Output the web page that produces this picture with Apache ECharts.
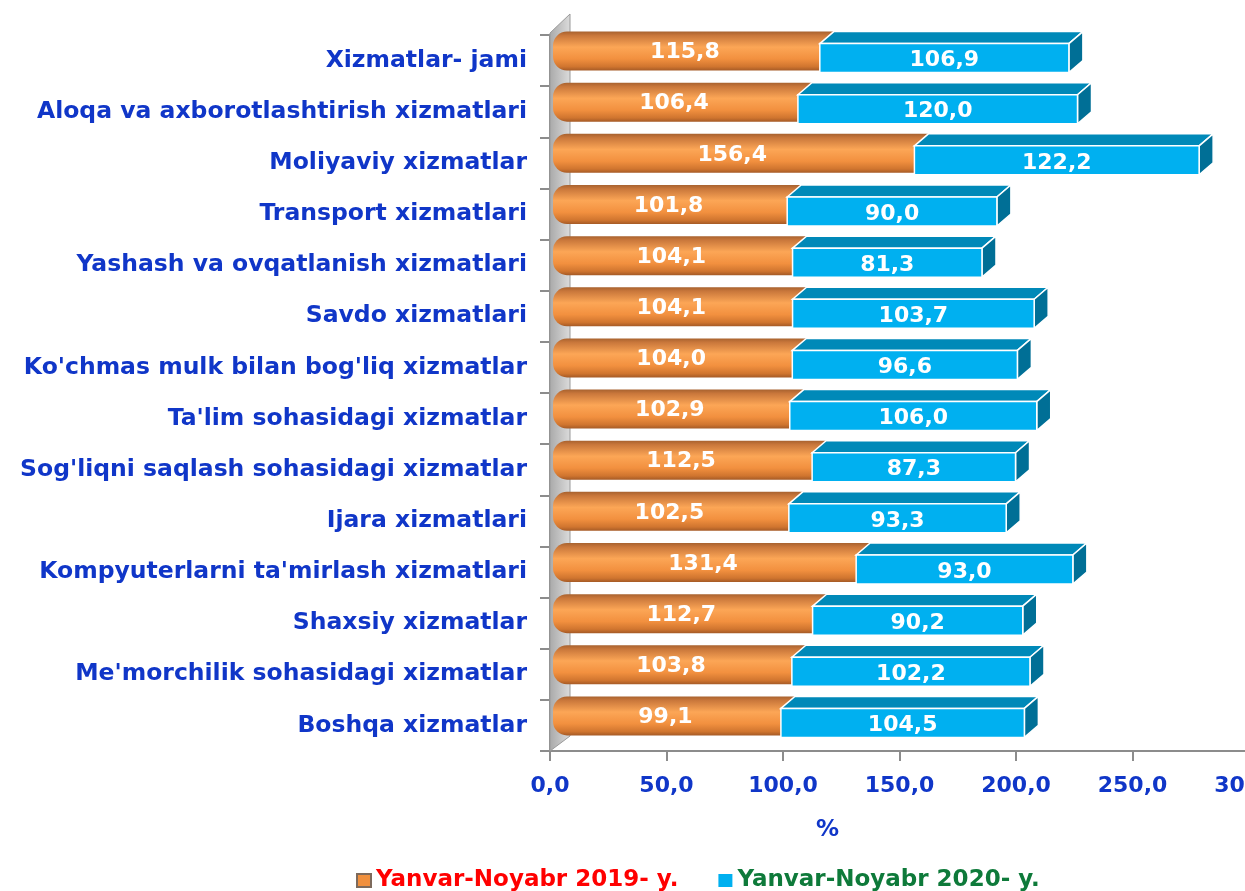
<!DOCTYPE html>
<html>
<head>
<meta charset="utf-8">
<script src="https://cdn.jsdelivr.net/npm/echarts@6.0.0/dist/echarts.min.js"></script>
<style>
  html, body { margin: 0; padding: 0; background: #fff; }
  #chart { width: 1245px; height: 891px; }
</style>
</head>
<body>
<div id="chart"></div>
<script>
// categories, top to bottom
var categories = [
  'Xizmatlar- jami',
  'Aloqa va axborotlashtirish xizmatlari',
  'Moliyaviy xizmatlar',
  'Transport xizmatlari',
  'Yashash va ovqatlanish xizmatlari',
  'Savdo xizmatlari',
  "Ko'chmas mulk bilan bog'liq xizmatlar",
  "Ta'lim sohasidagi xizmatlar",
  "Sog'liqni saqlash sohasidagi xizmatlar",
  'Ijara xizmatlari',
  "Kompyuterlarni ta'mirlash xizmatlari",
  'Shaxsiy xizmatlar',
  "Me'morchilik sohasidagi xizmatlar",
  'Boshqa xizmatlar'
];
var values2019 = [115.8, 106.4, 156.4, 101.8, 104.1, 104.1, 104.0, 102.9, 112.5, 102.5, 131.4, 112.7, 103.8, 99.1];
var values2020 = [106.9, 120.0, 122.2, 90.0, 81.3, 103.7, 96.6, 106.0, 87.3, 93.3, 93.0, 90.2, 102.2, 104.5];
var seriesNames = ['Yanvar-Noyabr 2019- y.', 'Yanvar-Noyabr 2020- y.'];

var FONT = '"DejaVu Sans", sans-serif';
var BLUE_TEXT = '#1036c8';
var DX = 14, DY = 12;   // 3d depth of the boxes

function fmt(v) {
  return v.toFixed(1).replace('.', ',');
}

var orangeFill = new echarts.graphic.LinearGradient(0, 0, 0, 1, [
  {offset: 0, color: '#a8622f'},
  {offset: 0.1, color: '#c9773b'},
  {offset: 0.4, color: '#fca656'},
  {offset: 0.7, color: '#f2903f'},
  {offset: 0.9, color: '#d0752f'},
  {offset: 1, color: '#a55a26'}
]);

function renderOrange(params, api) {
  var i = api.value(1);
  var p0 = api.coord([0, i]);
  var p1 = api.coord([api.value(0), i]);
  var cy = p0[1];
  var top = cy - 29, bot = cy + 10;
  return {
    type: 'group',
    children: [
      {
        type: 'rect',
        shape: {x: p0[0] + 3, y: top, width: p1[0] + DX - p0[0] - 3, height: bot - top, r: [14, 0, 0, 14]},
        style: {fill: orangeFill}
      },
      {
        type: 'text',
        style: {
          text: fmt(api.value(0)), x: (p0[0] + p1[0]) / 2, y: cy - 8,
          align: 'center', verticalAlign: 'middle',
          fill: '#fff', font: 'bold 22px ' + FONT
        }
      }
    ]
  };
}

function renderBlue(params, api) {
  var i = api.value(2);
  var a = api.coord([api.value(0), i]);
  var b = api.coord([api.value(1), i]);
  var cy = a[1];
  var t = cy - 17, bt = cy + 12;
  var edge = {stroke: '#fff', lineWidth: 1.5};
  return {
    type: 'group',
    children: [
      {
        type: 'polygon',
        shape: {points: [[a[0], t], [a[0] + DX, t - DY], [b[0] + DX, t - DY], [b[0], t]]},
        style: Object.assign({fill: '#0089b8'}, edge)
      },
      {
        type: 'polygon',
        shape: {points: [[b[0], t], [b[0] + DX, t - DY], [b[0] + DX, bt - DY], [b[0], bt]]},
        style: Object.assign({fill: '#006f96'}, edge)
      },
      {
        type: 'rect',
        shape: {x: a[0], y: t, width: b[0] - a[0], height: bt - t},
        style: Object.assign({fill: '#00b0f0'}, edge)
      },
      {
        type: 'text',
        style: {
          text: fmt(api.value(1) - api.value(0)), x: (a[0] + b[0]) / 2, y: cy,
          align: 'center', verticalAlign: 'middle',
          fill: '#fff', font: 'bold 22px ' + FONT
        }
      }
    ]
  };
}

var data2019 = values2019.map(function (v, i) { return [v, i]; });
var data2020 = values2020.map(function (v, i) { return [values2019[i], values2019[i] + v, i]; });

var GRID_LEFT = 550, GRID_TOP = 35, GRID_W = 699, GRID_H = 716;

var chart = echarts.init(document.getElementById('chart'));
chart.setOption({
  backgroundColor: '#fff',
  animation: false,
  textStyle: {fontFamily: FONT, fontWeight: 'bold'},
  grid: {
    left: GRID_LEFT, top: GRID_TOP, width: GRID_W, height: GRID_H,
    containLabel: false, outerBoundsMode: 'none'
  },
  graphic: [
    {
      // left 3d wall of the plot
      type: 'polygon',
      z: 1,
      shape: {points: [
        [GRID_LEFT, GRID_TOP - 2], [GRID_LEFT + 20, GRID_TOP - 21],
        [GRID_LEFT + 20, GRID_TOP + GRID_H - 15], [GRID_LEFT, GRID_TOP + GRID_H]
      ]},
      style: {
        fill: new echarts.graphic.LinearGradient(0, 0, 1, 0, [
          {offset: 0, color: '#a9a9a9'},
          {offset: 1, color: '#dcdcdc'}
        ]),
        stroke: '#9a9a9a',
        lineWidth: 1
      }
    }
  ],
  legend: {
    left: 351,
    top: 864,
    itemGap: 40,
    itemWidth: 14,
    itemHeight: 13,
    icon: 'rect',
    textStyle: {fontSize: 23, fontWeight: 'bold', fontFamily: FONT},
    data: [
      {name: seriesNames[0], itemStyle: {color: '#f0903e', borderColor: '#7d6a5c', borderWidth: 2}, textStyle: {color: '#ff0000'}},
      {name: seriesNames[1], itemStyle: {color: '#00b0f0'}, textStyle: {color: '#0e7a3a'}}
    ]
  },
  xAxis: {
    type: 'value',
    min: 0,
    max: 300,
    interval: 50,
    name: '%',
    nameLocation: 'middle',
    nameGap: 68,
    nameTextStyle: {fontSize: 23, fontWeight: 'bold', color: BLUE_TEXT, padding: [0, 144, 0, 0]},
    axisLine: {show: true, lineStyle: {color: '#8c8c8c', width: 2}},
    axisTick: {show: true, length: 10, lineStyle: {color: '#8c8c8c', width: 2}},
    splitLine: {show: false},
    axisLabel: {
      margin: 24,
      fontSize: 22,
      fontWeight: 'bold',
      color: BLUE_TEXT,
      formatter: function (v) { return fmt(v); }
    }
  },
  yAxis: {
    type: 'category',
    inverse: true,
    data: categories,
    axisLine: {show: true, lineStyle: {color: '#8c8c8c', width: 2}},
    axisTick: {show: true, length: 10, lineStyle: {color: '#8c8c8c', width: 2}},
    axisLabel: {margin: 23, fontSize: 23.5, fontWeight: 'bold', color: BLUE_TEXT}
  },
  series: [
    {
      name: seriesNames[0],
      type: 'custom',
      z: 3,
      itemStyle: {color: '#f0903e'},
      encode: {x: 0, y: 1},
      renderItem: renderOrange,
      data: data2019
    },
    {
      name: seriesNames[1],
      type: 'custom',
      z: 4,
      itemStyle: {color: '#00b0f0'},
      encode: {x: [0, 1], y: 2},
      renderItem: renderBlue,
      data: data2020
    }
  ]
});
</script>
</body>
</html>
